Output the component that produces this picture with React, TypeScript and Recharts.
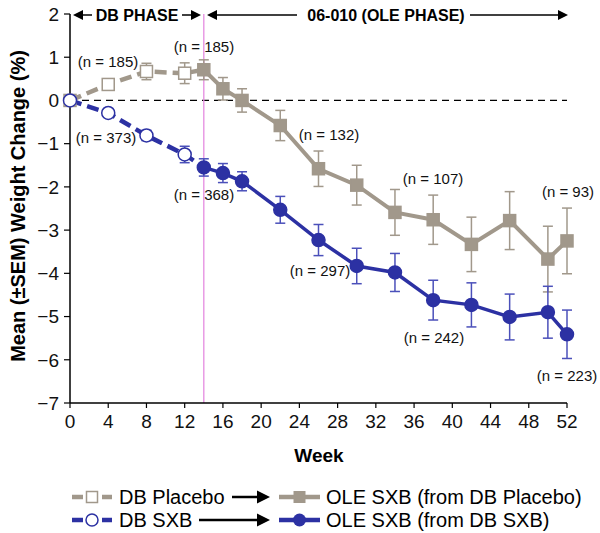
import {
  ComposedChart,
  Line,
  XAxis,
  YAxis,
  ErrorBar,
  ReferenceLine,
  ReferenceDot,
} from 'recharts';

// double-blind phase (weeks 0-14)
const dbWeeks = [0, 4, 8, 12, 14];
const placeboDB = [0, 0.37, 0.67, 0.63, 0.71];
const placeboDBErr = [0, 0.1, 0.19, 0.24, 0];
const sxbDB = [0, -0.29, -0.81, -1.25, -1.55];
const sxbDBErr = [0, 0.1, 0.12, 0.19, 0];

// open-label extension (weeks 14-52)
const oleWeeks = [14, 16, 18, 22, 26, 30, 34, 38, 42, 46, 50, 52];
const placeboOLE = [0.71, 0.27, 0.0, -0.58, -1.58, -1.96, -2.59, -2.76, -3.33, -2.78, -3.67, -3.25];
const placeboOLEErr = [0.23, 0.26, 0.27, 0.35, 0.41, 0.46, 0.53, 0.57, 0.63, 0.67, 0.76, 0.76];
const sxbOLE = [-1.55, -1.68, -1.87, -2.53, -3.23, -3.83, -3.98, -4.62, -4.73, -5.01, -4.9, -5.41];
const sxbOLEErr = [0.2, 0.22, 0.22, 0.31, 0.36, 0.41, 0.44, 0.46, 0.51, 0.53, 0.6, 0.56];

const xTicks = [0, 4, 8, 12, 16, 20, 24, 28, 32, 36, 40, 44, 48, 52];
const yTicks = [-7, -6, -5, -4, -3, -2, -1, 0, 1, 2];

// sample size notes: text, and where they sit (week, % change)
const nTexts = ['(n = 185)', '(n = 185)', '(n = 373)', '(n = 368)', '(n = 132)', '(n = 107)', '(n = 93)', '(n = 297)', '(n = 242)', '(n = 223)'];
const nAt = [
  [3.98, 0.89], [14.02, 1.24], [3.77, -0.87], [14.02, -2.19], [27.1, -0.8],
  [37.98, -1.82], [52.1, -2.1], [26.16, -3.95], [38.08, -5.48], [52.0, -6.36],
];

const GRAY = '#A1988B';
const BLUE = '#2C31A3';
const BLUE_ERR = '#4B50BA';
const FONT = '"Liberation Sans", Arial, sans-serif';

const rows = (weeks: number[], vals: number[], errs: number[]) =>
  weeks.map((w, i) => ({ week: w, value: vals[i], err: errs[i] }));

const squareDot = (color: string, filled: boolean, skipWeek?: number) => (p: any) => {
  const { cx, cy, payload, index } = p;
  if (cx == null || cy == null || payload.week === skipWeek) return <g key={`s${index}`} />;
  return (
    <rect key={`s${index}`} x={cx - 6} y={cy - 6} width={12} height={12}
      fill={filled ? color : '#fff'} stroke={color} strokeWidth={1.5} />
  );
};

const circleDot = (color: string, filled: boolean, skipWeek?: number) => (p: any) => {
  const { cx, cy, payload, index } = p;
  if (cx == null || cy == null || payload.week === skipWeek) return <g key={`c${index}`} />;
  return <circle key={`c${index}`} cx={cx} cy={cy} r={6.5} fill={filled ? color : '#fff'} stroke={color} strokeWidth={1.5} />;
};

const fmt = (v: number) => (v < 0 ? '\u2212' + Math.abs(v) : String(v));

function Arrow({ x1, x2, y, w = 1.5, head = 10 }: { x1: number; x2: number; y: number; w?: number; head?: number }) {
  // tip at x2
  const dir = x2 > x1 ? 1 : -1;
  const hh = head * 0.5;
  return (
    <g>
      <line x1={x1} y1={y} x2={x2 - dir * (head - 2)} y2={y} stroke="#000" strokeWidth={w} />
      <polygon points={`${x2},${y} ${x2 - dir * head},${y - hh} ${x2 - dir * head},${y + hh}`} fill="#000" />
    </g>
  );
}

function Overlay() {
  return (
    <svg width={600} height={533} style={{ position: 'absolute', left: 0, top: 0, pointerEvents: 'none' }} fontFamily={FONT}>
      {/* phase headers */}
      <Arrow x1={92} x2={73} y={15} />
      <text x={137} y={15} textAnchor="middle" dominantBaseline="central" fontSize={16} fontWeight="bold">DB PHASE</text>
      <Arrow x1={182} x2={201} y={15} />
      <Arrow x1={297} x2={207} y={15} />
      <text x={386} y={15} textAnchor="middle" dominantBaseline="central" fontSize={16} fontWeight="bold">06-010 (OLE PHASE)</text>
      <Arrow x1={470} x2={568} y={15} />

      {/* axis titles */}
      <text transform="translate(18,206) rotate(-90)" textAnchor="middle" dominantBaseline="central" fontSize={20} fontWeight="bold">
        Mean (±SEM) Weight Change (%)
      </text>
      <text x={319} y={455} textAnchor="middle" dominantBaseline="central" fontSize={19} fontWeight="bold">Week</text>

      {/* legend */}
      <g>
        <line x1={72} y1={497} x2={112} y2={497} stroke={GRAY} strokeWidth={4.5} strokeDasharray="11 19" />
        <rect x={86.5} y={491.5} width={11} height={11} fill="#fff" stroke={GRAY} strokeWidth={1.5} />
        <text x={119} y={504} fontSize={20}>DB Placebo</text>
        <Arrow x1={232} x2={270} y={497} w={2.5} head={13} />
        <line x1={279} y1={497} x2={320} y2={497} stroke={GRAY} strokeWidth={4.5} />
        <rect x={293.5} y={491} width={12} height={12} fill={GRAY} />
        <text x={326} y={504} fontSize={20}>OLE SXB (from DB Placebo)</text>

        <line x1={72} y1={520} x2={112} y2={520} stroke={BLUE} strokeWidth={4.5} strokeDasharray="11 19" />
        <circle cx={92} cy={520} r={6} fill="#fff" stroke={BLUE} strokeWidth={1.5} />
        <text x={119} y={527} fontSize={20}>DB SXB</text>
        <Arrow x1={199} x2={270} y={520} w={2.5} head={13} />
        <line x1={279} y1={520} x2={320} y2={520} stroke={BLUE} strokeWidth={4.5} />
        <circle cx={299.5} cy={520} r={6.5} fill={BLUE} />
        <text x={326} y={527} fontSize={20}>OLE SXB (from DB SXB)</text>
      </g>
    </svg>
  );
}

export default function App() {
  const pDB = rows(dbWeeks, placeboDB, placeboDBErr);
  const sDB = rows(dbWeeks, sxbDB, sxbDBErr);
  const pOLE = rows(oleWeeks, placeboOLE, placeboOLEErr);
  const sOLE = rows(oleWeeks, sxbOLE, sxbOLEErr);

  return (
    <div style={{ position: 'absolute', left: 0, top: 0, width: 600, height: 533, background: '#fff' }}>
      <ComposedChart width={600} height={533} margin={{ top: 14, right: 33, left: 0, bottom: 0 }} style={{ fontFamily: FONT }}>
        <XAxis dataKey="week" type="number" domain={[0, 52]} ticks={xTicks} height={130}
          tick={{ fill: '#111', fontSize: 19 }} tickSize={5} tickMargin={7}
          axisLine={{ stroke: '#000', strokeWidth: 1.5 }} tickLine={{ stroke: '#000', strokeWidth: 1.2 }} />
        <YAxis type="number" domain={[-7, 2]} ticks={yTicks} width={70} tickFormatter={fmt}
          tick={{ fill: '#111', fontSize: 19 }} tickSize={6} tickMargin={5}
          axisLine={{ stroke: '#000', strokeWidth: 1.5 }} tickLine={{ stroke: '#000', strokeWidth: 1.2 }} />

        <ReferenceLine y={0} stroke="#000" strokeWidth={1.2} strokeDasharray="7 5" />
        <ReferenceLine x={14} stroke="#E58BE0" strokeWidth={1.3} />

        <Line data={pDB} dataKey="value" stroke={GRAY} strokeWidth={4.5} strokeDasharray="12 6"
          dot={squareDot(GRAY, false, 14)} activeDot={false} isAnimationActive={false}>
          <ErrorBar dataKey="err" width={5} stroke={GRAY} strokeWidth={1.5} direction="y" />
        </Line>
        <Line data={sDB} dataKey="value" stroke={BLUE} strokeWidth={4.5} strokeDasharray="12 6"
          dot={circleDot(BLUE, false, 14)} activeDot={false} isAnimationActive={false}>
          <ErrorBar dataKey="err" width={5} stroke={BLUE_ERR} strokeWidth={1.5} direction="y" />
        </Line>
        <Line data={pOLE} dataKey="value" stroke={GRAY} strokeWidth={4}
          dot={squareDot(GRAY, true)} activeDot={false} isAnimationActive={false}>
          <ErrorBar dataKey="err" width={5} stroke={GRAY} strokeWidth={1.5} direction="y" />
        </Line>
        <Line data={sOLE} dataKey="value" stroke={BLUE} strokeWidth={3.5}
          dot={circleDot(BLUE, true)} activeDot={false} isAnimationActive={false}>
          <ErrorBar dataKey="err" width={5} stroke={BLUE_ERR} strokeWidth={1.5} direction="y" />
        </Line>

        {nTexts.map((t, i) => (
          <ReferenceDot key={i} x={nAt[i][0]} y={nAt[i][1]} r={0} fill="none" stroke="none" ifOverflow="visible"
            label={{ value: t, position: 'center', fontSize: 15, fill: '#111' }} />
        ))}
      </ComposedChart>
      <Overlay />
    </div>
  );
}
